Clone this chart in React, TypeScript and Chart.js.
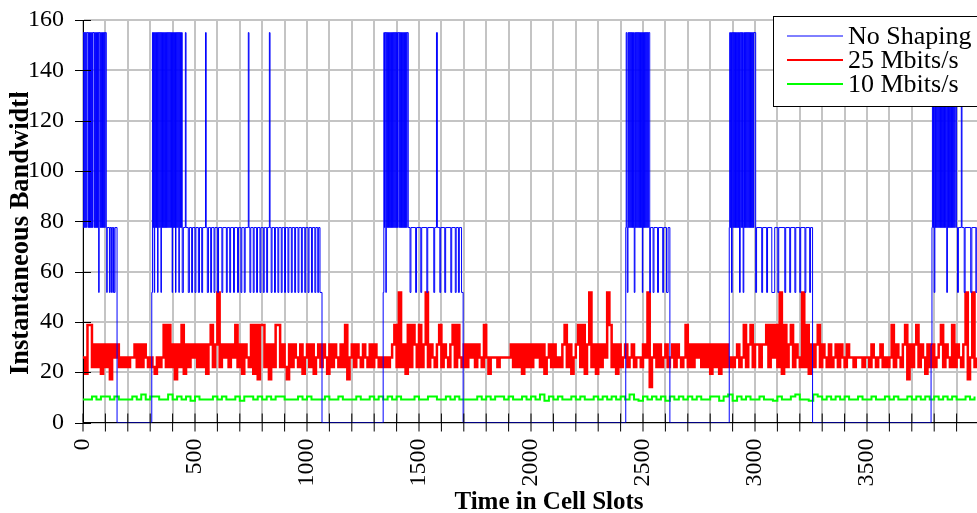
import React, { useEffect, useRef } from "react";
import { Chart, registerables } from "chart.js";

Chart.register(...registerables);

// Axis ranges and titles
const X_MAX = 4000;
const X_STEP = 100;
const X_LABEL_EVERY = 500;
const Y_MAX = 160;
const Y_STEP = 20;
const xTitle = "Time in Cell Slots";
const yTitle = "Instantaneous Bandwidth [Mbits/s]";
const seriesNames = ["No Shaping", "25 Mbits/s", "10 Mbits/s"];

// No Shaping: [cell slot, bandwidth] — value holds until the next entry
const noShaping: [number, number][] = [
  [0,155],[3,77.5],[5,155],[8,77.5],[10,155],[13,77.5],[15,155],[22,77.5],[24,155],[27,77.5],[29,155],[32,77.5],[34,155],[37,77.5],[39,155],[42,77.5],[44,155],[50,77.5],[52,155],[55,77.5],[57,155],[60,77.5],[62,155],[65,77.5],[67,155],[70,51.7],[72,155],[77,77.5],[79,155],[82,77.5],[84,155],[87,77.5],[89,155],[92,77.5],[94,155],[97,77.5],[99,155],[104,77.5],[106,51.7],[108,77.5],[118,51.7],[121,77.5],[126,51.7],[128,77.5],[133,51.7],[136,77.5],[139,51.7],[143,77.5],[152,0],
  [307,51.7],[310,155],[313,77.5],[315,155],[318,51.7],[320,155],[323,77.5],[325,155],[328,77.5],[330,155],[333,51.7],[335,155],[338,77.5],[340,155],[343,77.5],[345,155],[348,51.7],[350,155],[353,77.5],[355,155],[358,77.5],[360,155],[363,77.5],[365,155],[368,77.5],[370,155],[373,77.5],[375,155],[378,77.5],[380,155],[383,77.5],[385,155],[388,77.5],[390,155],[393,77.5],[395,155],[398,51.7],[400,155],[403,77.5],[405,155],[408,77.5],[410,155],[413,51.7],[415,155],[418,77.5],[420,155],[423,77.5],[425,155],[428,51.7],[430,155],[433,77.5],[435,155],[438,77.5],[440,155],[443,51.7],
  [448,77.5],[457,155],[460,77.5],[470,51.7],[475,77.5],[485,51.7],[489,77.5],[500,51.7],[504,77.5],[515,51.7],[520,77.5],[530,51.7],[534,77.5],[547,155],[550,77.5],[555,51.7],[560,77.5],[570,51.7],[574,77.5],[585,51.7],[589,77.5],[600,51.7],[605,77.5],[620,51.7],[624,77.5],[640,51.7],[644,77.5],[655,51.7],[659,77.5],[672,51.7],[676,77.5],[690,51.7],[694,77.5],[705,51.7],[709,77.5],[720,51.7],[724,77.5],[738,155],[741,77.5],[745,51.7],[749,77.5],[760,51.7],[764,77.5],[775,51.7],[779,77.5],[790,51.7],[794,77.5],[805,51.7],[809,77.5],[820,51.7],[824,77.5],[832,155],[835,77.5],[840,51.7],[844,77.5],[855,51.7],[859,77.5],[870,51.7],[874,77.5],[885,51.7],[889,77.5],[900,51.7],[904,77.5],[915,51.7],[919,77.5],[930,51.7],[934,77.5],[945,51.7],[949,77.5],[960,51.7],[964,77.5],[975,51.7],[979,77.5],[990,51.7],[994,77.5],[1005,51.7],[1009,77.5],[1020,51.7],[1024,77.5],[1035,51.7],[1039,77.5],[1048,51.7],[1052,77.5],[1058,51.7],[1067,0],
  [1340,51.7],[1343,155],[1346,77.5],[1348,155],[1352,51.7],[1354,155],[1357,77.5],[1359,155],[1362,77.5],[1364,155],[1367,77.5],[1369,155],[1372,77.5],[1374,155],[1377,77.5],[1379,155],[1382,77.5],[1384,155],[1387,77.5],[1389,155],[1392,77.5],[1394,155],[1397,77.5],[1399,155],[1402,77.5],[1404,155],[1410,77.5],[1412,155],[1415,77.5],[1417,155],[1420,77.5],[1422,155],[1425,77.5],[1427,155],[1430,77.5],[1432,155],[1435,77.5],[1437,155],[1440,77.5],[1442,155],[1445,77.5],[1447,155],[1452,77.5],
  [1460,51.7],[1464,77.5],[1485,51.7],[1489,77.5],[1508,51.7],[1512,77.5],[1535,51.7],[1539,77.5],[1566,51.7],[1570,77.5],[1578,155],[1582,77.5],[1593,51.7],[1597,77.5],[1615,51.7],[1619,77.5],[1642,51.7],[1646,77.5],[1662,51.7],[1666,77.5],[1676,51.7],[1680,77.5],[1690,51.7],[1697,0],
  [2423,77.5],[2425,155],[2428,77.5],[2430,51.7],[2433,155],[2436,77.5],[2438,155],[2441,77.5],[2443,155],[2446,77.5],[2448,155],[2451,77.5],[2453,155],[2456,77.5],[2458,155],[2461,51.7],[2464,155],[2467,77.5],[2469,155],[2472,77.5],[2474,155],[2477,77.5],[2479,155],[2482,77.5],[2484,155],[2487,77.5],[2489,155],[2492,77.5],[2494,155],[2497,51.7],[2499,155],[2502,77.5],[2504,155],[2507,77.5],[2509,155],[2512,77.5],[2514,155],[2517,77.5],[2519,155],[2522,77.5],[2524,155],[2530,51.7],[2533,77.5],[2545,51.7],[2549,77.5],[2565,51.7],[2569,77.5],[2588,51.7],[2592,77.5],[2605,51.7],[2612,77.5],[2620,0],
  [2885,77.5],[2887,155],[2890,77.5],[2892,155],[2895,51.7],[2898,155],[2901,77.5],[2903,155],[2906,77.5],[2908,155],[2911,77.5],[2913,155],[2916,77.5],[2918,155],[2921,77.5],[2923,155],[2926,77.5],[2928,155],[2931,51.7],[2934,155],[2937,77.5],[2939,155],[2942,77.5],[2944,155],[2947,51.7],[2950,155],[2953,77.5],[2955,155],[2958,77.5],[2960,155],[2963,77.5],[2965,155],[2968,77.5],[2970,155],[2973,77.5],[2975,155],[2978,77.5],[2980,155],[2983,77.5],[2985,155],[2988,77.5],[2990,155],[2993,77.5],[2995,155],[3003,51.7],[3007,77.5],
  [3030,51.7],[3034,77.5],[3052,51.7],[3056,77.5],[3075,51.7],[3088,77.5],[3102,51.7],[3106,77.5],[3133,51.7],[3137,77.5],[3155,51.7],[3159,77.5],[3178,51.7],[3182,77.5],[3200,51.7],[3204,77.5],[3223,51.7],[3227,77.5],[3244,51.7],[3248,77.5],[3257,0],
  [3786,31],[3790,77.5],[3792,155],[3795,77.5],[3797,155],[3800,51.7],[3803,155],[3806,77.5],[3808,155],[3811,77.5],[3813,155],[3816,77.5],[3818,155],[3821,77.5],[3823,155],[3826,77.5],[3828,155],[3831,77.5],[3833,155],[3836,77.5],[3838,155],[3841,77.5],[3843,155],[3846,77.5],[3848,155],[3851,77.5],[3853,155],[3856,51.7],[3859,155],[3862,77.5],[3864,155],[3867,77.5],[3869,155],[3872,77.5],[3874,155],[3877,77.5],[3879,155],[3882,77.5],[3884,155],[3887,77.5],[3889,155],[3892,77.5],[3894,155],[3900,77.5],[3904,51.7],[3908,77.5],[3921,155],[3924,77.5],[3934,51.7],[3938,77.5],[3963,51.7],[3968,77.5],[3986,51.7],[3990,77.5],[4000,77.5],
];

// 25 Mbits/s: one sample every 10 cell slots
const SHAPED25_STEP = 10;
const shaped25 = [
  25.8,19.4,38.8,38.8,22.1,31,22.1,31,19.4,31,
  22.1,31,17.2,31,25.8,31,22.1,25.8,22.1,25.8,
  22.1,25.8,25.8,31,22.1,31,22.1,31,25.8,22.1,
  25.8,22.1,19.4,25.8,22.1,25.8,38.8,22.1,38.8,22.1,
  31,17.2,31,22.1,38.8,19.4,31,22.1,31,25.8,
  31,22.1,31,22.1,31,19.4,31,38.8,22.1,31,
  51.7,22.1,31,25.8,31,22.1,31,25.8,38.8,22.1,
  31,19.4,31,25.8,22.1,38.8,19.4,38.8,17.2,38.8,
  38.8,22.1,31,17.2,31,22.1,38.8,38.8,22.1,31,
  22.1,17.2,31,22.1,31,25.8,22.1,31,19.4,25.8,
  31,22.1,31,19.4,25.8,31,22.1,31,25.8,19.4,
  31,22.1,31,25.8,22.1,31,22.1,38.8,17.2,25.8,
  31,22.1,31,25.8,22.1,31,25.8,22.1,31,22.1,
  31,25.8,22.1,25.8,22.1,25.8,22.1,25.8,31,38.8,
  22.1,51.7,22.1,31,19.4,38.8,22.1,38.8,31,22.1,
  38.8,22.1,31,51.7,22.1,31,25.8,22.1,31,38.8,
  22.1,31,25.8,22.1,31,38.8,22.1,38.8,25.8,22.1,
  31,22.1,31,25.8,31,22.1,31,25.8,22.1,38.8,
  25.8,19.4,25.8,25.8,25.8,22.1,25.8,25.8,25.8,25.8,
  25.8,31,22.1,31,22.1,31,19.4,31,22.1,31,
  22.1,31,25.8,31,22.1,31,19.4,25.8,31,22.1,
  31,22.1,25.8,22.1,31,38.8,22.1,31,19.4,25.8,
  31,38.8,22.1,38.8,19.4,31,51.7,22.1,31,19.4,
  31,22.1,31,25.8,51.7,38.8,22.1,31,19.4,31,
  22.1,25.8,31,22.1,25.8,31,22.1,25.8,25.8,22.1,
  31,25.8,51.7,14.1,25.8,31,22.1,31,22.1,25.8,
  31,22.1,25.8,31,22.1,31,25.8,22.1,25.8,38.8,
  22.1,31,22.1,31,25.8,31,22.1,31,22.1,31,
  19.4,31,22.1,31,19.4,31,22.1,31,22.1,25.8,
  22.1,25.8,31,22.1,25.8,38.8,22.1,31,38.8,22.1,
  31,31,22.1,31,31,38.8,22.1,38.8,25.8,38.8,
  22.1,51.7,19.4,38.8,22.1,31,38.8,22.1,31,25.8,
  22.1,51.7,22.1,38.8,19.4,31,22.1,31,38.8,22.1,
  31,25.8,22.1,31,22.1,25.8,31,22.1,31,25.8,
  22.1,31,25.8,25.8,22.1,25.8,25.8,25.8,22.1,25.8,
  25.8,22.1,31,25.8,22.1,25.8,31,22.1,25.8,22.1,
  25.8,38.8,22.1,31,25.8,22.1,31,38.8,17.2,31,
  22.1,31,38.8,22.1,31,25.8,19.4,31,22.1,31,
  22.1,25.8,31,38.8,22.1,31,25.8,22.1,38.8,22.1,
  31,25.8,22.1,31,51.7,17.2,25.8,51.7,22.1,25.8,
];

// 10 Mbits/s: one sample every 20 cell slots
const SHAPED10_STEP = 20;
const shaped10 = [
  9.1,9.1,10.3,9.1,10.3,10.3,9.1,10.3,9.1,9.1,
  9.1,10.3,9.1,11.1,9.1,10.3,10.3,9.1,9.1,11.1,
  9.1,10.3,9.1,10.3,8.6,10.3,9.1,9.1,9.1,10.3,
  9.1,10.3,9.1,9.1,10.3,8.6,10.3,10.3,9.1,10.3,
  9.1,10.3,9.1,10.3,10.3,9.1,9.1,9.1,10.3,9.1,
  10.3,9.1,9.1,9.1,10.3,9.1,9.1,10.3,9.1,9.1,
  9.1,10.3,9.1,9.1,10.3,9.1,10.3,9.1,10.3,9.1,
  10.3,9.1,9.1,9.1,10.3,9.1,9.1,10.3,10.3,9.1,
  9.1,10.3,9.1,10.3,9.1,9.1,9.1,9.1,10.3,9.1,
  10.3,9.1,10.3,10.3,9.1,10.3,9.1,9.1,10.3,9.1,
  10.3,9.1,11.1,8.6,10.3,9.1,10.3,9.1,9.1,10.3,
  9.1,10.3,9.1,9.1,10.3,9.1,10.3,9.1,10.3,9.1,
  10.3,9.1,11.1,9.1,8.6,10.3,9.1,10.3,9.1,10.3,
  8.6,10.3,9.1,10.3,9.1,10.3,9.1,10.3,9.1,9.1,
  10.3,10.3,8.6,10.3,11.1,8.6,10.3,9.1,10.3,9.1,
  9.1,10.3,9.1,9.1,8.6,10.3,9.1,9.1,10.3,11.1,
  9.1,9.1,8.6,11.1,10.3,9.1,10.3,9.1,10.3,9.1,
  10.3,9.1,9.1,10.3,9.1,9.1,10.3,9.1,9.1,10.3,
  9.1,10.3,9.1,9.1,10.3,9.1,10.3,9.1,10.3,9.1,
  10.3,9.1,10.3,9.1,10.3,9.1,9.1,10.3,9.1,10.3,
];

const SERIF = '"Liberation Serif", "Times New Roman", serif';

// Cross-over tick marks, axis titles and the boxed legend
const overlay = {
  id: "overlay",
  afterDraw(chart: any) {
    const { ctx, chartArea, scales } = chart;
    const xs = scales.x;
    const ys = scales.y;
    ctx.save();
    ctx.strokeStyle = "#000";
    ctx.lineWidth = 1;
    ctx.beginPath();
    for (let v = 0; v < X_MAX; v += X_STEP) {
      const px = xs.getPixelForValue(v);
      ctx.moveTo(px, chartArea.bottom - 9);
      ctx.lineTo(px, chartArea.bottom + 9);
    }
    for (let v = 0; v <= Y_MAX; v += Y_STEP) {
      const py = Math.round(ys.getPixelForValue(v)) + 0.5;
      ctx.moveTo(chartArea.left - 8, py);
      ctx.lineTo(chartArea.left + 8, py);
    }
    ctx.stroke();

    ctx.fillStyle = "#000";
    ctx.font = `bold 25px ${SERIF}`;
    ctx.textAlign = "center";
    ctx.textBaseline = "alphabetic";
    ctx.fillText(xTitle, 549, 509);

    ctx.save();
    ctx.beginPath();
    ctx.rect(0, 92, 70, 340);
    ctx.clip();
    ctx.font = `bold 26.5px ${SERIF}`;
    ctx.translate(28, 375);
    ctx.rotate(-Math.PI / 2);
    ctx.textAlign = "left";
    ctx.fillText(yTitle, 0, 0);
    ctx.restore();

    // legend
    const bx = 773.5, by = 16.5, bw = 260, bh = 90;
    ctx.fillStyle = "#fff";
    ctx.fillRect(bx, by, bw, bh);
    ctx.strokeStyle = "#000";
    ctx.lineWidth = 1;
    ctx.strokeRect(bx, by, bw, bh);
    ctx.font = `26px ${SERIF}`;
    ctx.textAlign = "left";
    chart.data.datasets.forEach((ds: any, i: number) => {
      const ly = 36 + i * 24;
      ctx.strokeStyle = ds.borderColor;
      ctx.lineWidth = i === 0 ? 1 : 2;
      ctx.beginPath();
      ctx.moveTo(787, ly);
      ctx.lineTo(843, ly);
      ctx.stroke();
      ctx.fillStyle = "#000";
      ctx.fillText(ds.label, 848, ly + 8);
    });
    ctx.restore();
  },
};

export default function App() {
  const canvasRef = useRef<HTMLCanvasElement | null>(null);

  useEffect(() => {
    const canvas = canvasRef.current;
    if (!canvas) return;
    const blueData = noShaping.map(([x, y]) => ({ x, y }));
    const redData = shaped25.map((y, i) => ({ x: i * SHAPED25_STEP, y }));
    const greenData = shaped10.map((y, i) => ({ x: i * SHAPED10_STEP, y }));

    const chart = new Chart(canvas, {
      type: "line",
      data: {
        datasets: [
          {
            label: seriesNames[0],
            data: blueData,
            borderColor: "#0000ff",
            borderWidth: 1,
            pointRadius: 0,
            stepped: true,
            fill: false,
          },
          {
            label: seriesNames[1],
            data: redData,
            borderColor: "#ff0000",
            borderWidth: 2.5,
            pointRadius: 0,
            stepped: true,
            fill: false,
          },
          {
            label: seriesNames[2],
            data: greenData,
            borderColor: "#00ff00",
            borderWidth: 2,
            pointRadius: 0,
            stepped: true,
            fill: false,
          },
        ],
      },
      options: {
        animation: false,
        responsive: false,
        maintainAspectRatio: false,
        events: [],
        layout: { padding: { left: 0, top: 20, right: 21, bottom: 0 } },
        plugins: {
          legend: { display: false },
          tooltip: { enabled: false },
        },
        scales: {
          x: {
            type: "linear",
            min: 0,
            max: X_MAX,
            afterFit: (scale: any) => {
              scale.height = 90.5;
              scale.paddingLeft = 0;
              scale.paddingRight = 0;
            },
            grid: { color: "#c4c4c4", lineWidth: 2, drawTicks: false },
            border: { display: true, color: "#000", width: 1 },
            ticks: {
              stepSize: X_STEP,
              autoSkip: false,
              maxRotation: 90,
              minRotation: 90,
              padding: 16,
              color: "#000",
              font: { family: SERIF, size: 24 },
              callback: (v: any) =>
                Number(v) % X_LABEL_EVERY === 0 && Number(v) < X_MAX ? String(v) : "",
            },
          },
          y: {
            type: "linear",
            min: 0,
            max: Y_MAX,
            afterFit: (scale: any) => {
              scale.width = 83;
              scale.paddingTop = 0;
              scale.paddingBottom = 0;
            },
            grid: { color: "#c4c4c4", lineWidth: 2, drawTicks: false },
            border: { display: true, color: "#000", width: 1 },
            ticks: {
              stepSize: Y_STEP,
              padding: 19,
              color: "#000",
              font: { family: SERIF, size: 24 },
            },
          },
        },
      },
      plugins: [overlay],
    });
    return () => chart.destroy();
  }, []);

  return (
    <div
      style={{
        position: "fixed",
        left: 0,
        top: 0,
        width: 977,
        height: 513,
        overflow: "hidden",
        background: "#fff",
      }}
    >
      <canvas ref={canvasRef} width={1000} height={513} style={{ display: "block" }} />
    </div>
  );
}
